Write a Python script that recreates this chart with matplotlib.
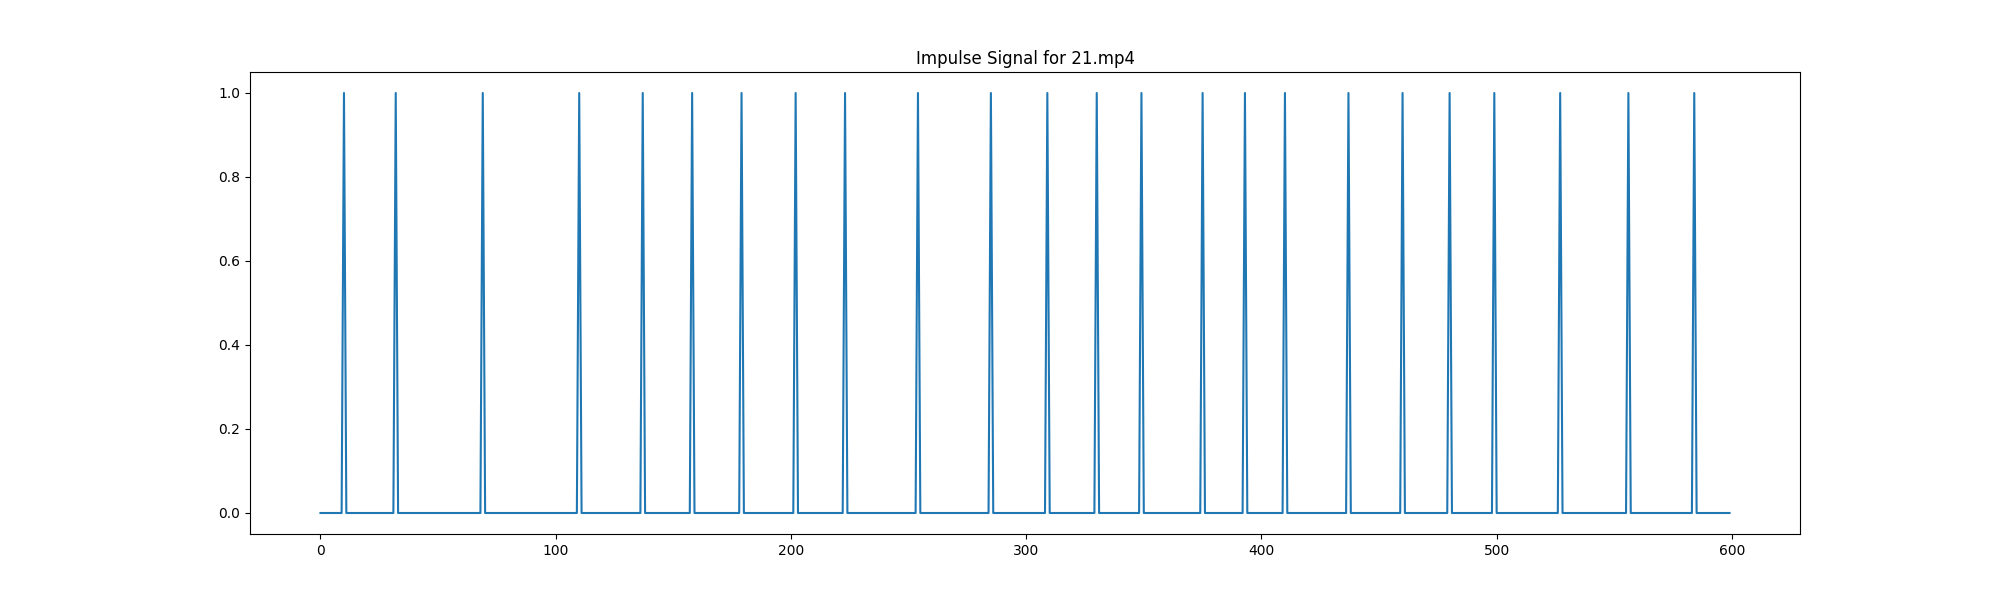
import numpy as np
import matplotlib
matplotlib.use('Agg')
import matplotlib.pyplot as plt

# === Datos ===
n_frames = 600
impulse_frames = [10, 32, 69, 110, 137, 158, 179, 202, 223, 254, 285, 309,
                  330, 349, 375, 393, 410, 437, 460, 480, 499, 527, 556, 584]
titulo = 'Impulse Signal for 21.mp4'

frames = np.arange(n_frames)
signal = np.zeros(n_frames)
signal[impulse_frames] = 1.0

# === Graficar ===
plt.figure(figsize=(20, 6), dpi=100)
plt.plot(frames, signal)
plt.title(titulo)
plt.savefig('out.png', dpi=100)
